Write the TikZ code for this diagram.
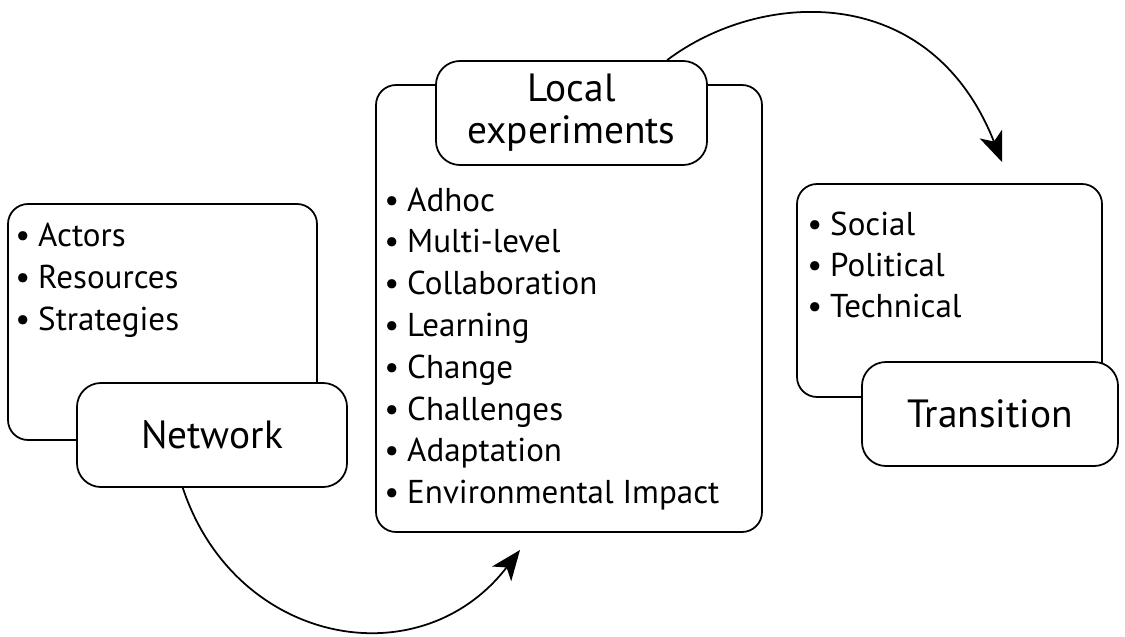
\documentclass[tikz,border=0pt]{standalone}
\usepackage{fontspec}
\setmainfont{PT Sans}
\usetikzlibrary{arrows.meta}

\tikzset{
	frame/.style={draw, line width=1.25pt, rounded corners=0.5cm},
	tag/.style={draw, fill=white, line width=1.25pt, rounded corners=0.6cm,
		minimum height=2.6cm, align=center, inner sep=0pt,
		font=\fontsize{28}{30}\selectfont},
	item/.style={anchor=base west, inner sep=0pt,
		font=\fontsize{23.5}{28}\selectfont},
	flow/.style={line width=1.25pt, -{Stealth[length=0.75cm, width=0.6cm, inset=0.2cm]}}
}

\begin{document}
\begin{tikzpicture}[x=0.025cm, y=-0.025cm]
	\useasboundingbox (0,0) rectangle (1125,637);
	
	% list frames
	\draw[frame] (8,204) rectangle (317,440);
	\draw[frame] (376,85) rectangle (762,532);
	\draw[frame] (797,184) rectangle (1102,397);
	
	% left list
	\foreach \w [count=\i] in {Actors, Resources, Strategies}{
		\node[item] (a\i) at (15,{246+42*(\i-1)}) {•\hspace{0.2cm}\w};
	}
	
	% middle list
	\foreach \w [count=\i] in
	{Adhoc, Multi-level, Collaboration, Learning, Change, Challenges, Adaptation, Environmental Impact}{
		\node[item] (m\i) at (384,{211+41.8*(\i-1)}) {•\hspace{0.2cm}\w};
	}
	
	% right list
	\foreach \w [count=\i] in {Social, Political, Technical}{
		\node[item] (r\i) at (807,{235+41*(\i-1)}) {•\hspace{0.2cm}\w};
	}
	
	% tags
	\node[tag, minimum width=6.75cm] (net) at (212,435) {Network};
	\node[tag, minimum width=6.775cm] (loc) at (571.5,113) {Local\\experiments};
	\node[tag, minimum width=6.4cm] (tra) at (990,414) {Transition};
	
	% arrows
	\coordinate (midin) at (520,550);
	\coordinate (trin) at (1002,162);
	\draw[flow] ([xshift=-0.73cm]net.south) .. controls (235,645) and (420,680) .. (midin);
	\draw[flow] ([xshift=2.39cm]loc.north) .. controls (760,-10) and (930,-20) .. (trin);
\end{tikzpicture}
\end{document}
